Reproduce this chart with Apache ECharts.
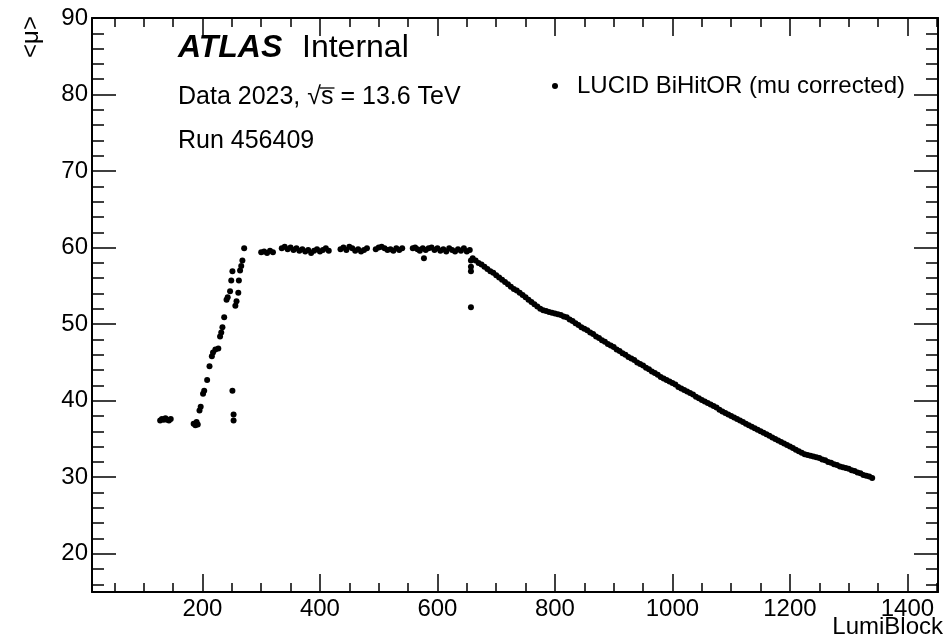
<!DOCTYPE html>
<html>
<head>
<meta charset="utf-8">
<script src="https://cdn.jsdelivr.net/npm/echarts@6/dist/echarts.min.js"></script>
<style>html,body{margin:0;padding:0;background:#fff;}#c{width:946px;height:641px;}</style>
</head>
<body>
<div id="c"></div>
<script>
// ---- data ----
const lbStart = [128,131,134,137,140,143,146,185,188,190,192];
const muStart = [37.4,37.6,37.5,37.7,37.5,37.4,37.6,37.0,36.8,37.2,36.9];

const lbRise = [195,197,201,203,208,212,216,218,222,227,230,232,234,237,241,243,247,249,251,256,258,261,262,264,266,268,271,251,253,253];
const muRise = [38.7,39.2,40.9,41.3,42.7,44.5,45.8,46.3,46.7,46.8,48.4,48.9,49.6,50.9,53.2,53.5,54.3,55.7,56.9,52.4,53.0,54.1,55.7,57.0,57.6,58.3,59.9,41.3,38.2,37.4];

const lbPlateau = [300,305,310,315,320,335,340,345,350,355,360,365,370,375,380,385,390,395,400,405,410,415,435,440,445,450,455,460,465,470,475,480,495,500,505,510,515,520,525,530,535,540,558,562,566,570,575,580,585,590,595,600,605,610,615,620,625,630,635,640,645,650,655,577,657,657,657,657];
const muPlateau = [59.4,59.5,59.3,59.6,59.4,59.9,60.1,59.8,60.0,59.7,59.9,59.6,59.8,59.5,59.7,59.3,59.6,59.8,59.5,59.7,59.9,59.6,59.8,60.0,59.7,60.1,59.9,59.6,59.8,59.5,59.7,59.9,59.8,60.0,60.1,59.9,59.7,59.8,59.6,59.9,59.7,59.9,59.9,60.0,59.8,59.6,59.9,59.7,59.9,60.0,59.7,59.9,59.6,59.8,59.5,59.9,59.7,59.5,59.8,59.6,59.9,59.5,59.7,58.6,58.3,57.5,56.9,52.2];

const lbDecay = [660,665,670,675,680,685,690,695,700,705,710,715,720,725,730,735,740,745,750,755,760,765,770,775,780,785,790,795,800,805,810,815,820,825,830,835,840,845,850,855,860,865,870,875,880,885,890,895,900,905,910,915,920,925,930,935,940,945,950,955,960,965,970,975,980,985,990,995,1000,1005,1010,1015,1020,1025,1030,1035,1040,1045,1050,1055,1060,1065,1070,1075,1080,1085,1090,1095,1100,1105,1110,1115,1120,1125,1130,1135,1140,1145,1150,1155,1160,1165,1170,1175,1180,1185,1190,1195,1200,1205,1210,1215,1220,1225,1230,1235,1240,1245,1250,1255,1260,1265,1270,1275,1280,1285,1290,1295,1300,1305,1310,1315,1320,1325,1330,1335,1340];
const muDecay = [58.6,58.3,58.0,57.8,57.5,57.2,56.9,56.7,56.4,56.1,55.8,55.5,55.2,54.9,54.6,54.4,54.1,53.8,53.5,53.2,52.9,52.6,52.3,52.0,51.8,51.7,51.6,51.5,51.4,51.3,51.2,51.0,50.9,50.6,50.4,50.1,49.9,49.6,49.4,49.2,48.9,48.7,48.4,48.2,47.9,47.7,47.4,47.2,47.0,46.7,46.5,46.2,46.0,45.7,45.5,45.3,45.0,44.8,44.6,44.3,44.1,43.8,43.6,43.4,43.1,42.9,42.7,42.5,42.3,42.1,41.8,41.6,41.4,41.2,41.0,40.8,40.5,40.3,40.1,39.9,39.7,39.5,39.3,39.1,38.8,38.6,38.4,38.2,38.0,37.8,37.6,37.4,37.2,37.0,36.8,36.6,36.4,36.2,36.0,35.8,35.6,35.4,35.2,35.0,34.8,34.6,34.4,34.2,34.0,33.8,33.6,33.4,33.2,33.0,32.9,32.8,32.7,32.6,32.5,32.3,32.2,32.0,31.9,31.7,31.6,31.4,31.3,31.2,31.1,30.9,30.8,30.6,30.5,30.3,30.2,30.1,29.9];

const xMajor = [200,400,600,800,1000,1200,1400];
const xMinor = [50,100,150,250,300,350,450,500,550,650,700,750,850,900,950,1050,1100,1150,1250,1300,1350,1450];
const yMajor = [20,30,40,50,60,70,80,90];
const yMinor = [16,18,22,24,26,28,32,34,36,38,42,44,46,48,52,54,56,58,62,64,66,68,72,74,76,78,82,84,86,88];

const seriesName = 'LUCID BiHitOR (mu corrected)';
const xTitle = 'LumiBlock';
const yTitle = '<μ>';

// ---- build ----
const lbAll = lbStart.concat(lbRise, lbPlateau, lbDecay);
const muAll = muStart.concat(muRise, muPlateau, muDecay);
const points = lbAll.map((lb, i) => [lb, muAll[i]]);

const FONT = '"Liberation Sans", Arial, Helvetica, sans-serif';
const X_MIN = 12, X_MAX = 1452, Y_MIN = 15, Y_MAX = 90;

function xAx(pos, vals, len, labels, line) {
  return {
    type: 'value', min: X_MIN, max: X_MAX, position: pos,
    axisLine: { show: line, onZero: false, lineStyle: { color: '#000', width: 2 } },
    axisTick: { show: true, inside: true, length: len, customValues: vals, lineStyle: { color: '#000', width: 1.5 } },
    axisLabel: labels ? { show: true, customValues: vals, formatter: v => String(v), color: '#000', fontSize: 24, fontFamily: FONT, margin: 5 } : { show: false },
    splitLine: { show: false }, minorTick: { show: false }
  };
}
function yAx(pos, vals, len, labels, line) {
  return {
    type: 'value', min: Y_MIN, max: Y_MAX, position: pos,
    axisLine: { show: line, onZero: false, lineStyle: { color: '#000', width: 2 } },
    axisTick: { show: true, inside: true, length: len, customValues: vals, lineStyle: { color: '#000', width: 1.5 } },
    axisLabel: labels ? { show: true, customValues: vals, formatter: v => String(v), color: '#000', fontSize: 24, fontFamily: FONT, margin: 4 } : { show: false },
    splitLine: { show: false }, minorTick: { show: false }
  };
}

// measure for sqrt overline
const cv = document.createElement('canvas').getContext('2d');
cv.font = '25px "Liberation Sans"';
const dataLine = 'Data 2023, √s = 13.6 TeV';
const wPre = cv.measureText('Data 2023, √').width;
const wS = cv.measureText('s').width;
const TX = 178;

const chart = echarts.init(document.getElementById('c'), null, { renderer: 'canvas' });
chart.setOption({
  animation: false,
  backgroundColor: '#fff',
  grid: { left: 92, right: 8, top: 18, bottom: 49, containLabel: false },
  xAxis: [
    xAx('bottom', xMajor, 18, true, true),
    xAx('bottom', xMinor, 9, false, false),
    xAx('top', xMajor, 18, false, true),
    xAx('top', xMinor, 9, false, false)
  ],
  yAxis: [
    yAx('left', yMajor, 24, true, true),
    yAx('left', yMinor, 12, false, false),
    yAx('right', yMajor, 24, false, true),
    yAx('right', yMinor, 12, false, false)
  ],
  legend: {
    data: [seriesName], left: 547, top: 69, icon: 'circle', itemWidth: 34, itemHeight: 6,
    textStyle: { color: '#000', fontSize: 24, fontFamily: FONT }
  },
  series: [{
    name: seriesName, type: 'scatter', xAxisIndex: 0, yAxisIndex: 0,
    symbol: 'circle', symbolSize: 6, itemStyle: { color: '#000', opacity: 1 },
    data: points
  }],
  graphic: [
    { type: 'text', x: TX, y: 48, style: { text: 'ATLAS', font: 'italic bold 32px ' + FONT, fill: '#000', verticalAlign: 'middle' } },
    { type: 'text', x: 302, y: 48, style: { text: 'Internal', font: '32px ' + FONT, fill: '#000', verticalAlign: 'middle' } },
    { type: 'text', x: TX, y: 97, style: { text: dataLine, font: '25px ' + FONT, fill: '#000', verticalAlign: 'middle' } },
    { type: 'line', shape: { x1: TX + wPre - 1, y1: 88, x2: TX + wPre + wS + 1, y2: 88 }, style: { stroke: '#000', lineWidth: 1.3 } },
    { type: 'text', x: TX, y: 141, style: { text: 'Run 456409', font: '25px ' + FONT, fill: '#000', verticalAlign: 'middle' } },
    { type: 'text', x: 943, y: 627, style: { text: xTitle, font: '24px ' + FONT, fill: '#000', align: 'right', verticalAlign: 'middle' } },
    { type: 'text', x: 31, y: 37, rotation: Math.PI / 2, style: { text: yTitle, font: '24px ' + FONT, fill: '#000', align: 'center', verticalAlign: 'middle' } }
  ]
});
</script>
</body>
</html>
